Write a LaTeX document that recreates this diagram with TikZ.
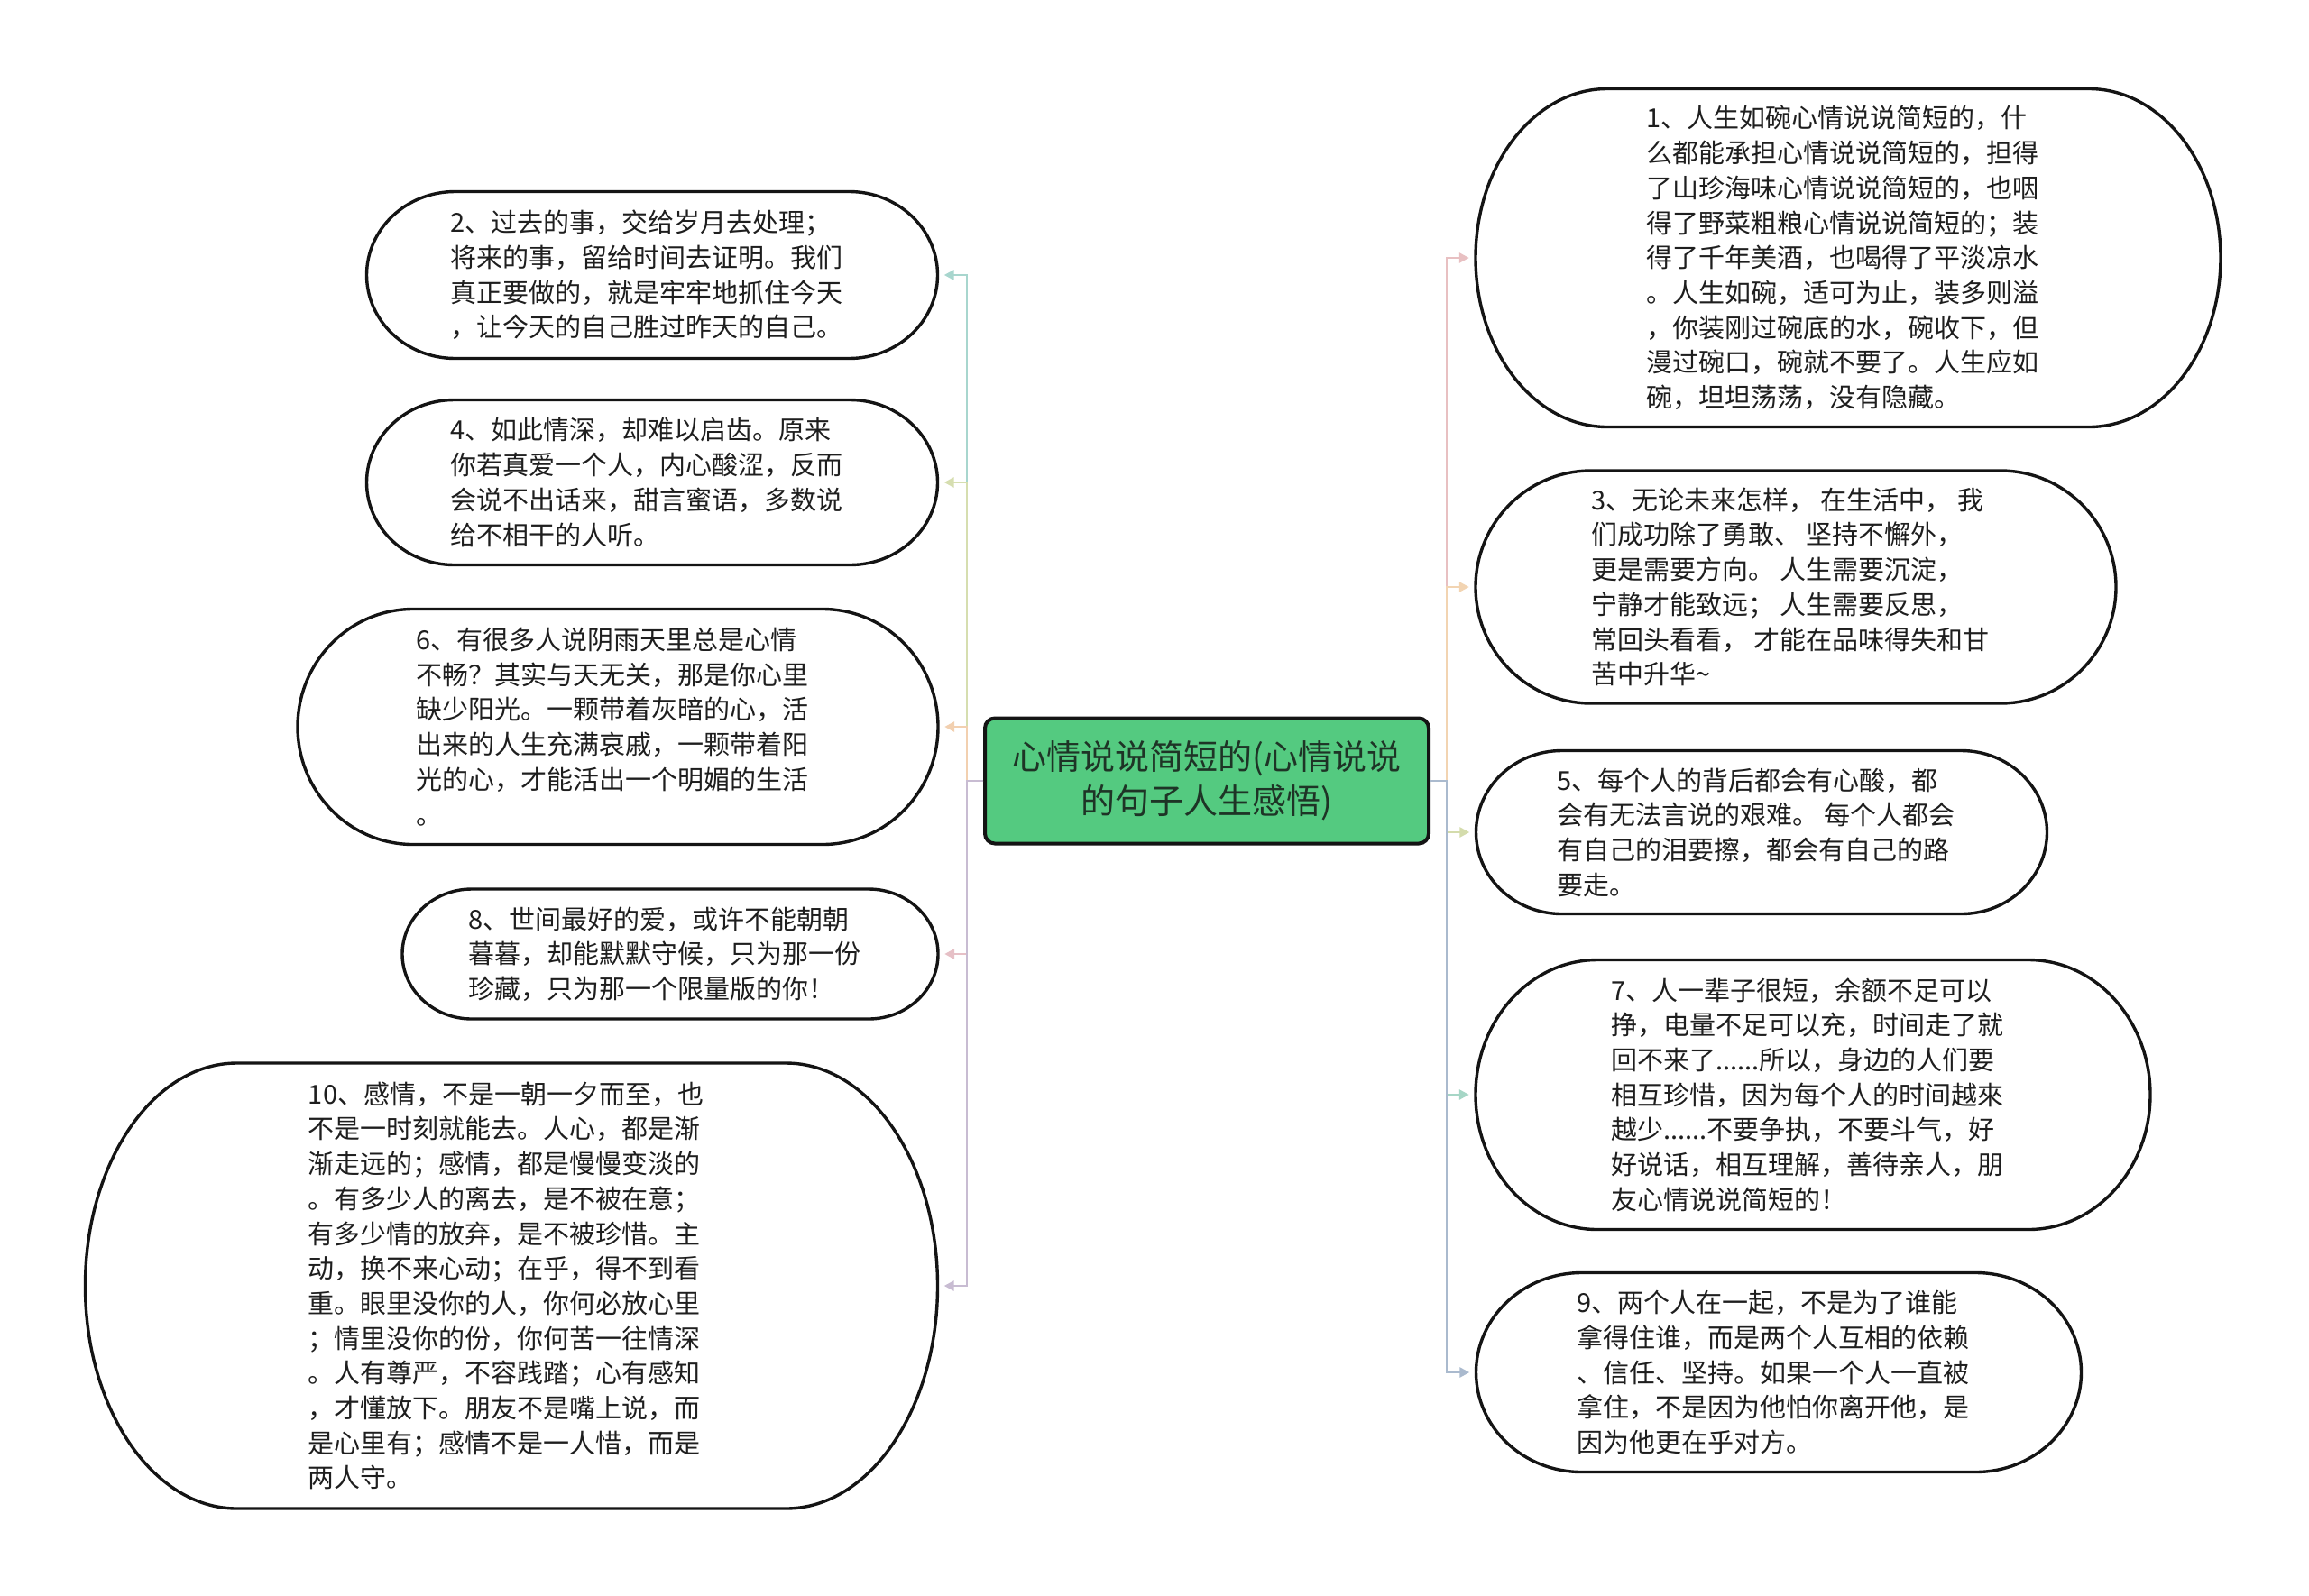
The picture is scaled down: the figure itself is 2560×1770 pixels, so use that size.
\documentclass[tikz,border=0pt]{standalone}
\usepackage{fontspec}
\setmainfont{Noto Sans CJK SC}
\usetikzlibrary{arrows.meta,calc}
\definecolor{txt}{RGB}{30,30,30}
\definecolor{ctxt}{RGB}{30,52,38}
\definecolor{cfill}{RGB}{84,202,128}
\definecolor{cA}{RGB}{232,192,194}
\definecolor{cB}{RGB}{168,214,206}
\definecolor{cC}{RGB}{242,212,178}
\definecolor{cD}{RGB}{214,222,176}
\definecolor{cE}{RGB}{212,220,172}
\definecolor{cF}{RGB}{242,208,176}
\definecolor{cG}{RGB}{166,214,198}
\definecolor{cH}{RGB}{230,192,198}
\definecolor{cI}{RGB}{170,186,206}
\definecolor{cJ}{RGB}{200,188,210}
\tikzset{
  outline/.style={draw=black!92, line width=3.4pt},
  conn/.style={line width=2.6pt, -{Triangle[length=11pt,width=11pt]}},
  childtext/.style={align=left, inner sep=0pt, text=txt, font=\fontsize{29}{38.7}\selectfont},
  holder/.style={inner sep=0pt, draw=none}
}
\newcommand\childnode[7]{%
  \node[holder, minimum width=#4pt, minimum height=#5pt] (#1) at (#2,#3) {};
  \node[childtext] (#1t) at (#2-6,#3) {#7};
  \pgfmathsetmacro\xl{#2-#4/2}%
  \pgfmathsetmacro\xr{#2+#4/2}%
  \pgfmathsetmacro\yt{#3-#5/2}%
  \pgfmathsetmacro\yb{#3+#5/2}%
  \pgfmathsetmacro\ry{#5/2}%
  \pgfmathsetmacro\kx{0.5523*#6}%
  \pgfmathsetmacro\ky{0.5523*\ry}%
  \draw[outline] (\xl+#6,\yt) -- (\xr-#6,\yt)
    .. controls (\xr-#6+\kx,\yt) and (\xr,#3-\ky) .. (\xr,#3)
    .. controls (\xr,#3+\ky) and (\xr-#6+\kx,\yb) .. (\xr-#6,\yb)
    -- (\xl+#6,\yb)
    .. controls (\xl+#6-\kx,\yb) and (\xl,#3+\ky) .. (\xl,#3)
    .. controls (\xl,#3-\ky) and (\xl+#6-\kx,\yt) .. (\xl+#6,\yt) -- cycle;
}
\begin{document}
\begin{tikzpicture}[x=1pt,y=-1pt]
\useasboundingbox[fill=white] (0,0) rectangle (2560,1770);

% centre
\node[draw=black!92, line width=4pt, fill=cfill, rounded corners=11pt,
      minimum width=492pt, minimum height=139pt, inner sep=0pt, align=center,
      text=ctxt, font=\fontsize{38}{49}\selectfont] (c) at (1338,866)
      {心情说说简短的(心情说说\\的句子人生感悟)};

% right side
\childnode{n1}{2049}{286}{826}{375}{146}{1、人生如碗心情说说简短的，什\\么都能承担心情说说简短的，担得\\了山珍海味心情说说简短的，也咽\\得了野菜粗粮心情说说简短的；装\\得了千年美酒，也喝得了平淡凉水\\。人生如碗，适可为止，装多则溢\\，你装刚过碗底的水，碗收下，但\\漫过碗口，碗就不要了。人生应如\\碗，坦坦荡荡，没有隐藏。}
\childnode{n3}{1991}{651}{710}{258}{128}{3、无论未来怎样， 在生活中， 我\\们成功除了勇敢、 坚持不懈外，\\更是需要方向。 人生需要沉淀，\\宁静才能致远； 人生需要反思，\\常回头看看， 才能在品味得失和甘\\苦中升华{\char"007E}}
\childnode{n5}{1953}{923}{633}{181}{95}{5、每个人的背后都会有心酸，都\\会有无法言说的艰难。 每个人都会\\有自己的泪要擦，都会有自己的路\\要走。}
\childnode{n7}{2010}{1214}{748}{299}{135}{7、人一辈子很短，余额不足可以\\挣，电量不足可以充，时间走了就\\回不来了......所以，身边的人们要\\相互珍惜，因为每个人的时间越來\\越少......不要争执，不要斗气，好\\好说话，相互理解，善待亲人，朋\\友心情说说简短的！}
\childnode{n9}{1972}{1522}{671}{221}{117}{9、两个人在一起，不是为了谁能\\拿得住谁，而是两个人互相的依赖\\、信任、坚持。如果一个人一直被\\拿住，不是因为他怕你离开他，是\\因为他更在乎对方。}

% left side
\childnode{n2}{723}{305}{633}{185}{98}{2、过去的事，交给岁月去处理；\\将来的事，留给时间去证明。我们\\真正要做的，就是牢牢地抓住今天\\，让今天的自己胜过昨天的自己。}
\childnode{n4}{723}{535}{633}{183}{97}{4、如此情深，却难以启齿。原来\\你若真爱一个人，内心酸涩，反而\\会说不出话来，甜言蜜语，多数说\\给不相干的人听。}
\childnode{n6}{685}{806}{710}{261}{128}{6、有很多人说阴雨天里总是心情\\不畅？其实与天无关，那是你心里\\缺少阳光。一颗带着灰暗的心，活\\出来的人生充满哀戚，一颗带着阳\\光的心，才能活出一个明媚的生活\\。}
\childnode{n8}{743}{1058}{594}{144}{77}{8、世间最好的爱，或许不能朝朝\\暮暮，却能默默守候，只为那一份\\珍藏，只为那一个限量版的你！}
\childnode{n10}{567}{1426}{945}{494}{168}{10、感情，不是一朝一夕而至，也\\不是一时刻就能去。人心，都是渐\\渐走远的；感情，都是慢慢变淡的\\。有多少人的离去，是不被在意；\\有多少情的放弃，是不被珍惜。主\\动，换不来心动；在乎，得不到看\\重。眼里没你的人，你何必放心里\\；情里没你的份，你何苦一往情深\\。人有尊严，不容践踏；心有感知\\，才懂放下。朋友不是嘴上说，而\\是心里有；感情不是一人惜，而是\\两人守。}

% connectors
\draw[conn, draw=cA] (c.east) -- ++(18,0) |- ([xshift=-7pt]n1.west);
\draw[conn, draw=cB] (c.west) -- ++(-18,0) |- ([xshift=7pt]n2.east);
\draw[conn, draw=cC] (c.east) -- ++(18,0) |- ([xshift=-7pt]n3.west);
\draw[conn, draw=cD] (c.west) -- ++(-18,0) |- ([xshift=7pt]n4.east);
\draw[conn, draw=cE] (c.east) -- ++(18,0) |- ([xshift=-7pt]n5.west);
\draw[conn, draw=cF] (c.west) -- ++(-18,0) |- ([xshift=7pt]n6.east);
\draw[conn, draw=cG] (c.east) -- ++(18,0) |- ([xshift=-7pt]n7.west);
\draw[conn, draw=cH] (c.west) -- ++(-18,0) |- ([xshift=7pt]n8.east);
\draw[conn, draw=cI] (c.east) -- ++(18,0) |- ([xshift=-7pt]n9.west);
\draw[conn, draw=cJ] (c.west) -- ++(-18,0) |- ([xshift=7pt]n10.east);
\end{tikzpicture}
\end{document}
